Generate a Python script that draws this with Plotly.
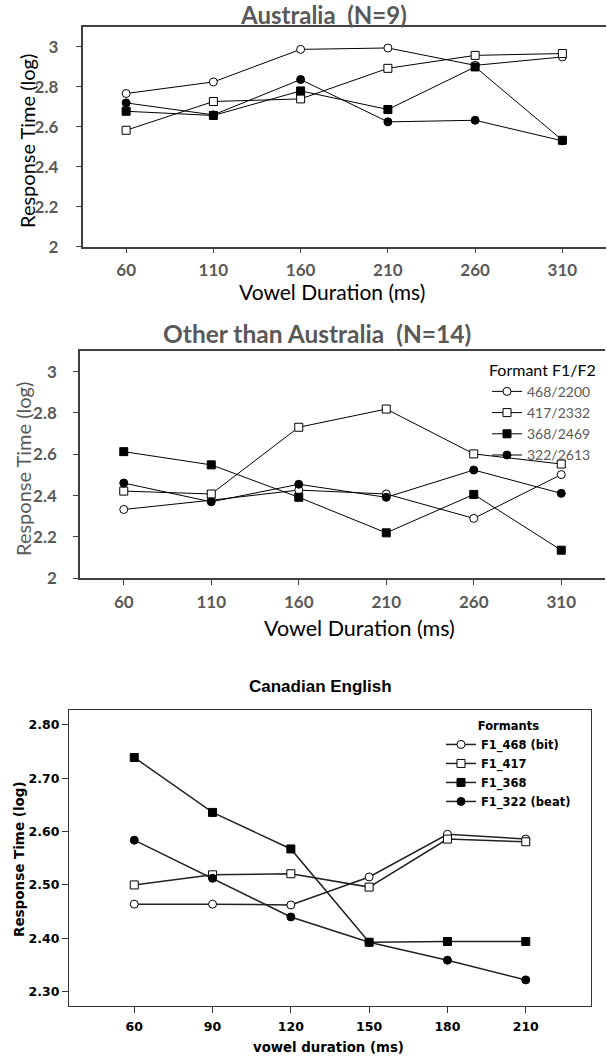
import plotly.graph_objects as go

# ---------------- data ----------------
au_x = [60, 110, 160, 210, 260, 310]
au_468 = [2.767, 2.825, 2.988, 2.995, 2.908, 2.950]
au_417 = [2.583, 2.727, 2.740, 2.893, 2.958, 2.967]
au_368 = [2.678, 2.657, 2.780, 2.687, 2.900, 2.533]
au_322 = [2.720, 2.660, 2.837, 2.625, 2.633, 2.530]

ot_x = [60, 110, 160, 210, 260, 310]
ot_468 = [2.333, 2.378, 2.427, 2.408, 2.290, 2.502]
ot_417 = [2.422, 2.408, 2.731, 2.819, 2.602, 2.553]
ot_368 = [2.613, 2.549, 2.392, 2.220, 2.406, 2.136]
ot_322 = [2.461, 2.370, 2.455, 2.392, 2.524, 2.411]
ot_names = ["468/2200", "417/2332", "368/2469", "322/2613"]

ca_x = [60, 90, 120, 150, 180, 210]
ca_468 = [2.464, 2.464, 2.4625, 2.515, 2.595, 2.586]
ca_417 = [2.500, 2.519, 2.521, 2.496, 2.586, 2.581]
ca_368 = [2.739, 2.636, 2.5675, 2.3925, 2.394, 2.394]
ca_322 = [2.584, 2.5125, 2.440, 2.3925, 2.359, 2.322]
ca_names = ["F1_468 (bit)", "F1_417", "F1_368", "F1_322 (beat)"]

# ---------------- styles ----------------
W, H = 607, 1056
GRAY = "#595959"
AX = "#404040"
sym = [("circle", "white"), ("square", "white"), ("square", "black"), ("circle", "black")]

fig = go.Figure()

def add_series(xs, ys_list, names, xa, ya, legend, show, lw, lc, msize):
    for ys, nm, (s, fc) in zip(ys_list, names, sym):
        fig.add_trace(go.Scatter(
            x=xs, y=ys, name=nm, mode="lines+markers",
            xaxis=xa, yaxis=ya, legend=legend, showlegend=show,
            line=dict(color=lc, width=lw),
            marker=dict(symbol=s, color=fc, size=msize,
                        line=dict(color="black", width=1)),
        ))

add_series(au_x, [au_468, au_417, au_368, au_322], ot_names, "x", "y", "legend", False, 1, "black", 8)
add_series(ot_x, [ot_468, ot_417, ot_368, ot_322], ot_names, "x2", "y2", "legend", True, 1, "black", 8)
add_series(ca_x, [ca_468, ca_417, ca_368, ca_322], ca_names, "x3", "y3", "legend2", True, 1.5, "#222222", 8)

def px_x(v):
    return v / W

def px_y(v):
    return 1 - v / H

lato_tick = dict(family="Lato", size=17, color=GRAY, weight="bold")
dv_tick = dict(family="DejaVu Sans", size=12.5, color="black", weight="bold")

common_top = dict(showline=True, linecolor=AX, linewidth=1.5, ticks="outside",
                  ticklen=5, tickcolor=AX, showgrid=False, zeroline=False,
                  automargin=False)

fig.update_layout(
    template="none",
    width=W, height=H, margin=dict(l=0, r=0, t=0, b=0, autoexpand=False),
    paper_bgcolor="white", plot_bgcolor="white",
    hovermode=False,
    xaxis=dict(domain=[px_x(82.5), px_x(606)], range=[35, 335], tickvals=au_x,
               tickfont=lato_tick, ticklabelstandoff=2, anchor="y", mirror=True, **common_top),
    yaxis=dict(domain=[px_y(246.7), px_y(27)], range=[2, 3.1], tick0=2, dtick=0.2,
               tickfont=lato_tick, ticklabelstandoff=14, anchor="x", **common_top),
    xaxis2=dict(domain=[px_x(80), px_x(605)], range=[35, 335], tickvals=ot_x,
                tickfont=lato_tick, ticklabelstandoff=3, anchor="y2", mirror=True, **common_top),
    yaxis2=dict(domain=[px_y(578.3), px_y(351)], range=[2, 3.1], tick0=2, dtick=0.2,
                tickfont=lato_tick, ticklabelstandoff=13, anchor="x2", **common_top),
    xaxis3=dict(domain=[px_x(69), px_x(591)], range=[35, 235], tickvals=ca_x,
                tickfont=dv_tick, showline=True, linecolor="#333333", linewidth=1.2,
                mirror=True, ticks="outside", ticklen=6, tickcolor="#333333",
                showgrid=False, zeroline=False, anchor="y3", ticklabelstandoff=3,
                automargin=False),
    yaxis3=dict(domain=[px_y(1005.5), px_y(710)], range=[2.274, 2.828], tick0=2.3, dtick=0.1,
                tickformat=".2f", tickfont=dv_tick, showline=True, linecolor="#333333",
                linewidth=1.2, mirror=True, ticks="outside", ticklen=6, tickcolor="#333333",
                showgrid=False, zeroline=False, anchor="x3", ticklabelstandoff=0,
                automargin=False),
    legend=dict(x=px_x(487), y=px_y(355), xanchor="left", yanchor="top",
                bgcolor="rgba(0,0,0,0)",
                font=dict(family="Lato", size=14, color=GRAY),
                title=dict(text="Formant F1/F2", side="top",
                           font=dict(family="Lato", size=16, color="black")),
                tracegroupgap=0, itemclick=False),
    legend2=dict(x=px_x(441), y=px_y(715), xanchor="left", yanchor="top",
                 bgcolor="rgba(0,0,0,0)",
                 font=dict(family="DejaVu Sans", size=11.5, color="black", weight="bold"),
                 title=dict(text="Formants", side="top center",
                            font=dict(family="DejaVu Sans", size=11.5, color="black", weight="bold")),
                 tracegroupgap=0, itemclick=False),
)

def ann(text, x, y, font, angle=0):
    fig.add_annotation(text=text, x=px_x(x), y=px_y(y), xref="paper", yref="paper",
                       xanchor="center", yanchor="middle", showarrow=False,
                       textangle=angle, font=font)

ann("Australia\u00a0 (N=9)", 323, 15, dict(family="Lato", size=24, color=GRAY, weight="bold"))
ann("Response Time (log)", 27, 141, dict(family="Lato", size=20, color="black"), -90)
ann("Vowel Duration (ms)", 332, 291, dict(family="Lato", size=21, color="black"))

ann("Other than Australia\u00a0 (N=14)", 317, 333, dict(family="Lato", size=24.5, color=GRAY, weight="bold"))
ann("Response Time (log)", 23, 469, dict(family="Lato", size=20, color=GRAY), -90)
ann("Vowel Duration (ms)", 359, 628, dict(family="Lato", size=21.5, color="black"))

ann("Canadian English", 320, 686, dict(family="Liberation Sans", size=17, color="black", weight="bold"))
ann("Response Time (log)", 19, 859, dict(family="DejaVu Sans", size=13.5, color="black", weight="bold"), -90)
ann("vowel duration (ms)", 329, 1047, dict(family="DejaVu Sans", size=13.3, color="black", weight="bold"))

fig.write_html("out.html", config={"displayModeBar": False},
               post_script="document.body.style.margin='0';")
